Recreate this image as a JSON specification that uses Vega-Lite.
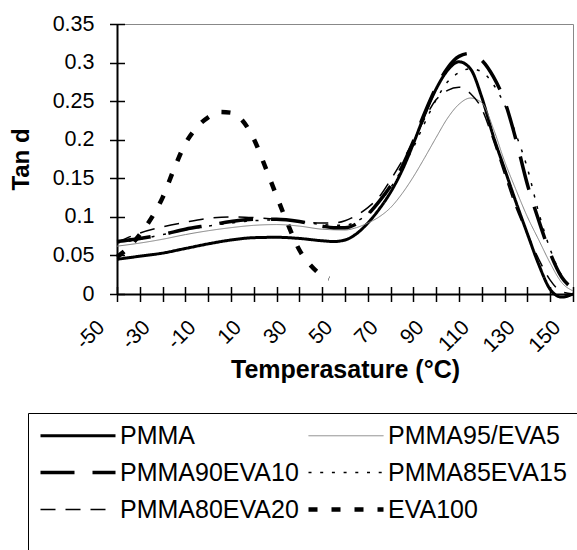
{
  "$schema": "https://vega.github.io/schema/vega-lite/v6.json",
  "width": 456,
  "height": 270,
  "autosize": {"type": "none"},
  "padding": {"left": 117, "top": 24, "right": 4, "bottom": 256},
  "config": {
    "font": "Liberation Sans",
    "view": {"stroke": "#888", "strokeWidth": 1},
    "legend": {
      "orient": "none",
      "legendX": -89,
      "legendY": 389,
      "columns": 2,
      "columnPadding": 0,
      "rowPadding": 11,
      "padding": 10,
      "strokeColor": "black",
      "labelFont": "Liberation Sans",
      "labelFontSize": 25,
      "labelColor": "black",
      "labelLimit": 400,
      "labelOffset": 57,
      "symbolType": "M-1,0H6.5",
      "symbolSize": 400,
      "titleOrient": "bottom",
      "titleFontSize": 20,
      "titlePadding": 10
    }
  },
  "datasets": {
    "d": [
      {"s": "PMMA", "t": -50, "v": 0.045}, {"s": "PMMA", "t": -40, "v": 0.049}, {"s": "PMMA", "t": -30, "v": 0.053}, {"s": "PMMA", "t": -20, "v": 0.059}, {"s": "PMMA", "t": -10, "v": 0.065}, {"s": "PMMA", "t": 0, "v": 0.070}, {"s": "PMMA", "t": 10, "v": 0.073}, {"s": "PMMA", "t": 20, "v": 0.0735}, {"s": "PMMA", "t": 30, "v": 0.072}, {"s": "PMMA", "t": 40, "v": 0.069}, {"s": "PMMA", "t": 45, "v": 0.068}, {"s": "PMMA", "t": 50, "v": 0.070}, {"s": "PMMA", "t": 55, "v": 0.078}, {"s": "PMMA", "t": 60, "v": 0.092}, {"s": "PMMA", "t": 65, "v": 0.11}, {"s": "PMMA", "t": 70, "v": 0.132}, {"s": "PMMA", "t": 75, "v": 0.16}, {"s": "PMMA", "t": 80, "v": 0.195}, {"s": "PMMA", "t": 85, "v": 0.233}, {"s": "PMMA", "t": 90, "v": 0.266}, {"s": "PMMA", "t": 95, "v": 0.29}, {"s": "PMMA", "t": 100, "v": 0.301}, {"s": "PMMA", "t": 105, "v": 0.292}, {"s": "PMMA", "t": 110, "v": 0.255}, {"s": "PMMA", "t": 115, "v": 0.205}, {"s": "PMMA", "t": 120, "v": 0.162}, {"s": "PMMA", "t": 125, "v": 0.119}, {"s": "PMMA", "t": 130, "v": 0.078}, {"s": "PMMA", "t": 135, "v": 0.038}, {"s": "PMMA", "t": 140, "v": 0.006}, {"s": "PMMA", "t": 145, "v": -0.004}, {"s": "PMMA", "t": 150, "v": 0.0},
      {"s": "PMMA95/EVA5", "t": -50, "v": 0.062}, {"s": "PMMA95/EVA5", "t": -40, "v": 0.066}, {"s": "PMMA95/EVA5", "t": -30, "v": 0.071}, {"s": "PMMA95/EVA5", "t": -20, "v": 0.077}, {"s": "PMMA95/EVA5", "t": -10, "v": 0.082}, {"s": "PMMA95/EVA5", "t": 0, "v": 0.086}, {"s": "PMMA95/EVA5", "t": 10, "v": 0.089}, {"s": "PMMA95/EVA5", "t": 20, "v": 0.09}, {"s": "PMMA95/EVA5", "t": 30, "v": 0.088}, {"s": "PMMA95/EVA5", "t": 40, "v": 0.084}, {"s": "PMMA95/EVA5", "t": 50, "v": 0.083}, {"s": "PMMA95/EVA5", "t": 55, "v": 0.086}, {"s": "PMMA95/EVA5", "t": 60, "v": 0.092}, {"s": "PMMA95/EVA5", "t": 65, "v": 0.1}, {"s": "PMMA95/EVA5", "t": 70, "v": 0.112}, {"s": "PMMA95/EVA5", "t": 75, "v": 0.13}, {"s": "PMMA95/EVA5", "t": 80, "v": 0.152}, {"s": "PMMA95/EVA5", "t": 85, "v": 0.177}, {"s": "PMMA95/EVA5", "t": 90, "v": 0.203}, {"s": "PMMA95/EVA5", "t": 95, "v": 0.228}, {"s": "PMMA95/EVA5", "t": 100, "v": 0.246}, {"s": "PMMA95/EVA5", "t": 105, "v": 0.254}, {"s": "PMMA95/EVA5", "t": 110, "v": 0.248}, {"s": "PMMA95/EVA5", "t": 115, "v": 0.215}, {"s": "PMMA95/EVA5", "t": 120, "v": 0.172}, {"s": "PMMA95/EVA5", "t": 125, "v": 0.135}, {"s": "PMMA95/EVA5", "t": 130, "v": 0.1}, {"s": "PMMA95/EVA5", "t": 135, "v": 0.07}, {"s": "PMMA95/EVA5", "t": 140, "v": 0.04}, {"s": "PMMA95/EVA5", "t": 145, "v": 0.015}, {"s": "PMMA95/EVA5", "t": 150, "v": 0.004},
      {"s": "PMMA90EVA10", "t": -50, "v": 0.068}, {"s": "PMMA90EVA10", "t": -40, "v": 0.072}, {"s": "PMMA90EVA10", "t": -30, "v": 0.077}, {"s": "PMMA90EVA10", "t": -20, "v": 0.084}, {"s": "PMMA90EVA10", "t": -10, "v": 0.089}, {"s": "PMMA90EVA10", "t": 0, "v": 0.094}, {"s": "PMMA90EVA10", "t": 10, "v": 0.097}, {"s": "PMMA90EVA10", "t": 20, "v": 0.097}, {"s": "PMMA90EVA10", "t": 30, "v": 0.094}, {"s": "PMMA90EVA10", "t": 40, "v": 0.088}, {"s": "PMMA90EVA10", "t": 45, "v": 0.086}, {"s": "PMMA90EVA10", "t": 50, "v": 0.086}, {"s": "PMMA90EVA10", "t": 55, "v": 0.091}, {"s": "PMMA90EVA10", "t": 60, "v": 0.103}, {"s": "PMMA90EVA10", "t": 65, "v": 0.12}, {"s": "PMMA90EVA10", "t": 70, "v": 0.14}, {"s": "PMMA90EVA10", "t": 75, "v": 0.165}, {"s": "PMMA90EVA10", "t": 80, "v": 0.198}, {"s": "PMMA90EVA10", "t": 85, "v": 0.235}, {"s": "PMMA90EVA10", "t": 90, "v": 0.268}, {"s": "PMMA90EVA10", "t": 95, "v": 0.293}, {"s": "PMMA90EVA10", "t": 100, "v": 0.308}, {"s": "PMMA90EVA10", "t": 105, "v": 0.312}, {"s": "PMMA90EVA10", "t": 110, "v": 0.303}, {"s": "PMMA90EVA10", "t": 115, "v": 0.282}, {"s": "PMMA90EVA10", "t": 120, "v": 0.25}, {"s": "PMMA90EVA10", "t": 125, "v": 0.2}, {"s": "PMMA90EVA10", "t": 130, "v": 0.142}, {"s": "PMMA90EVA10", "t": 135, "v": 0.095}, {"s": "PMMA90EVA10", "t": 140, "v": 0.053}, {"s": "PMMA90EVA10", "t": 145, "v": 0.022}, {"s": "PMMA90EVA10", "t": 150, "v": 0.007},
      {"s": "PMMA85EVA15", "t": -50, "v": 0.066}, {"s": "PMMA85EVA15", "t": -40, "v": 0.071}, {"s": "PMMA85EVA15", "t": -30, "v": 0.077}, {"s": "PMMA85EVA15", "t": -20, "v": 0.083}, {"s": "PMMA85EVA15", "t": -10, "v": 0.088}, {"s": "PMMA85EVA15", "t": 0, "v": 0.092}, {"s": "PMMA85EVA15", "t": 10, "v": 0.095}, {"s": "PMMA85EVA15", "t": 20, "v": 0.096}, {"s": "PMMA85EVA15", "t": 30, "v": 0.094}, {"s": "PMMA85EVA15", "t": 40, "v": 0.09}, {"s": "PMMA85EVA15", "t": 50, "v": 0.089}, {"s": "PMMA85EVA15", "t": 55, "v": 0.094}, {"s": "PMMA85EVA15", "t": 60, "v": 0.104}, {"s": "PMMA85EVA15", "t": 65, "v": 0.12}, {"s": "PMMA85EVA15", "t": 70, "v": 0.138}, {"s": "PMMA85EVA15", "t": 75, "v": 0.162}, {"s": "PMMA85EVA15", "t": 80, "v": 0.19}, {"s": "PMMA85EVA15", "t": 85, "v": 0.222}, {"s": "PMMA85EVA15", "t": 90, "v": 0.252}, {"s": "PMMA85EVA15", "t": 95, "v": 0.275}, {"s": "PMMA85EVA15", "t": 100, "v": 0.287}, {"s": "PMMA85EVA15", "t": 105, "v": 0.292}, {"s": "PMMA85EVA15", "t": 110, "v": 0.288}, {"s": "PMMA85EVA15", "t": 115, "v": 0.272}, {"s": "PMMA85EVA15", "t": 120, "v": 0.245}, {"s": "PMMA85EVA15", "t": 125, "v": 0.207}, {"s": "PMMA85EVA15", "t": 130, "v": 0.163}, {"s": "PMMA85EVA15", "t": 135, "v": 0.105}, {"s": "PMMA85EVA15", "t": 140, "v": 0.058}, {"s": "PMMA85EVA15", "t": 145, "v": 0.024}, {"s": "PMMA85EVA15", "t": 150, "v": 0.006},
      {"s": "PMMA80EVA20", "t": -50, "v": 0.067}, {"s": "PMMA80EVA20", "t": -40, "v": 0.079}, {"s": "PMMA80EVA20", "t": -30, "v": 0.087}, {"s": "PMMA80EVA20", "t": -20, "v": 0.093}, {"s": "PMMA80EVA20", "t": -10, "v": 0.098}, {"s": "PMMA80EVA20", "t": 0, "v": 0.1}, {"s": "PMMA80EVA20", "t": 10, "v": 0.099}, {"s": "PMMA80EVA20", "t": 20, "v": 0.097}, {"s": "PMMA80EVA20", "t": 30, "v": 0.094}, {"s": "PMMA80EVA20", "t": 40, "v": 0.092}, {"s": "PMMA80EVA20", "t": 45, "v": 0.092}, {"s": "PMMA80EVA20", "t": 50, "v": 0.095}, {"s": "PMMA80EVA20", "t": 55, "v": 0.102}, {"s": "PMMA80EVA20", "t": 60, "v": 0.112}, {"s": "PMMA80EVA20", "t": 65, "v": 0.126}, {"s": "PMMA80EVA20", "t": 70, "v": 0.148}, {"s": "PMMA80EVA20", "t": 75, "v": 0.172}, {"s": "PMMA80EVA20", "t": 80, "v": 0.198}, {"s": "PMMA80EVA20", "t": 85, "v": 0.228}, {"s": "PMMA80EVA20", "t": 90, "v": 0.252}, {"s": "PMMA80EVA20", "t": 95, "v": 0.264}, {"s": "PMMA80EVA20", "t": 100, "v": 0.268}, {"s": "PMMA80EVA20", "t": 105, "v": 0.26}, {"s": "PMMA80EVA20", "t": 110, "v": 0.24}, {"s": "PMMA80EVA20", "t": 115, "v": 0.2}, {"s": "PMMA80EVA20", "t": 120, "v": 0.155}, {"s": "PMMA80EVA20", "t": 125, "v": 0.112}, {"s": "PMMA80EVA20", "t": 130, "v": 0.078}, {"s": "PMMA80EVA20", "t": 135, "v": 0.045}, {"s": "PMMA80EVA20", "t": 140, "v": 0.018}, {"s": "PMMA80EVA20", "t": 145, "v": 0.003}, {"s": "PMMA80EVA20", "t": 150, "v": 0.0},
      {"s": "EVA100", "t": -50, "v": 0.048}, {"s": "EVA100", "t": -45, "v": 0.06}, {"s": "EVA100", "t": -40, "v": 0.077}, {"s": "EVA100", "t": -35, "v": 0.098}, {"s": "EVA100", "t": -30, "v": 0.125}, {"s": "EVA100", "t": -25, "v": 0.162}, {"s": "EVA100", "t": -20, "v": 0.195}, {"s": "EVA100", "t": -15, "v": 0.216}, {"s": "EVA100", "t": -10, "v": 0.229}, {"s": "EVA100", "t": -5, "v": 0.236}, {"s": "EVA100", "t": 0, "v": 0.235}, {"s": "EVA100", "t": 5, "v": 0.225}, {"s": "EVA100", "t": 10, "v": 0.201}, {"s": "EVA100", "t": 15, "v": 0.165}, {"s": "EVA100", "t": 20, "v": 0.127}, {"s": "EVA100", "t": 25, "v": 0.09}, {"s": "EVA100", "t": 30, "v": 0.057}, {"s": "EVA100", "t": 35, "v": 0.037}, {"s": "EVA100", "t": 40, "v": 0.024}, {"s": "EVA100", "t": 43, "v": 0.02}
    ]
  },
  "data": {"name": "d"},
  "resolve": {"axis": {"x": "independent", "y": "independent"}},
  "layer": [
    {
      "transform": [{"filter": "datum.s == 'EVA100'"}],
      "mark": {"type": "line", "interpolate": "monotone"},
      "encoding": {
        "x": {
          "field": "t", "type": "quantitative",
          "scale": {"domain": [-50, 150], "nice": false, "zero": false},
          "axis": {
            "orient": "bottom", "grid": false, "ticks": false,
            "values": [-50, -30, -10, 10, 30, 50, 70, 90, 110, 130, 150],
            "labelExpr": "'' + datum.value",
            "domainColor": "black", "domainWidth": 2,
            "labelAngle": -45, "labelAlign": "right", "labelBaseline": "middle",
            "labelFontSize": 21, "labelColor": "black", "labelPadding": 30, "labelOffset": -16,
            "labelFlush": false, "labelOverlap": false,
            "title": "Temperasature (°C)", "titleFontSize": 25, "titleFontWeight": "bold",
            "titleColor": "black", "titlePadding": 2
          }
        },
        "y": {
          "field": "v", "type": "quantitative",
          "scale": {"domain": [0, 0.35], "nice": false},
          "axis": {
            "orient": "left", "grid": false, "ticks": false,
            "values": [0, 0.05, 0.1, 0.15, 0.2, 0.25, 0.3, 0.35], "format": "~g",
            "domainColor": "black", "domainWidth": 2,
            "labelFontSize": 21.5, "labelColor": "black", "labelPadding": 23, "labelFlush": false, "labelOverlap": false,
            "title": "Tan d", "titleFontSize": 24, "titleFontWeight": "bold",
            "titleColor": "black", "titlePadding": 19
          }
        },
        "color": {
          "field": "s", "type": "nominal", "title": " ",
          "scale": {"domain": ["PMMA", "PMMA90EVA10", "PMMA80EVA20", "PMMA95/EVA5", "PMMA85EVA15", "EVA100"], "range": ["black", "black", "black", "#808080", "black", "black"]}
        },
        "strokeWidth": {
          "field": "s", "type": "nominal", "title": " ",
          "scale": {"type": "ordinal", "domain": ["PMMA", "PMMA90EVA10", "PMMA80EVA20", "PMMA95/EVA5", "PMMA85EVA15", "EVA100"], "range": [3, 3.5, 1.5, 1, 1.5, 4.5]}
        },
        "strokeDash": {
          "field": "s", "type": "nominal", "title": " ",
          "scale": {"domain": ["PMMA", "PMMA90EVA10", "PMMA80EVA20", "PMMA95/EVA5", "PMMA85EVA15", "EVA100"], "range": [[1, 0], [34, 18], [15, 10], [1, 0], [3, 8.7], [9, 14]]}
        }
      }
    },
    {
      "transform": [{"filter": "datum.s != 'EVA100'"}],
      "mark": {"type": "line", "interpolate": "monotone"},
      "encoding": {
        "x": {
          "field": "t", "type": "quantitative",
          "axis": {
            "orient": "bottom", "grid": false, "domain": false, "labels": false, "title": null,
            "offset": -7.5, "ticks": true, "tickSize": 15, "tickWidth": 1.5, "tickColor": "black",
            "values": [-50, -40, -30, -20, -10, 0, 10, 20, 30, 40, 50, 60, 70, 80, 90, 100, 110, 120, 130, 140, 150]
          }
        },
        "y": {
          "field": "v", "type": "quantitative",
          "axis": {
            "orient": "left", "grid": false, "domain": false, "labels": false, "title": null,
            "offset": -7.5, "ticks": true, "tickSize": 15, "tickWidth": 1.5, "tickColor": "black",
            "values": [0, 0.05, 0.1, 0.15, 0.2, 0.25, 0.3, 0.35]
          }
        },
        "color": {
          "field": "s", "type": "nominal", "title": " ",
          "scale": {"domain": ["PMMA", "PMMA90EVA10", "PMMA80EVA20", "PMMA95/EVA5", "PMMA85EVA15", "EVA100"], "range": ["black", "black", "black", "#808080", "black", "black"]}
        },
        "strokeWidth": {
          "field": "s", "type": "nominal", "title": " ",
          "scale": {"type": "ordinal", "domain": ["PMMA", "PMMA90EVA10", "PMMA80EVA20", "PMMA95/EVA5", "PMMA85EVA15", "EVA100"], "range": [3, 3.5, 1.5, 1, 1.5, 4.5]}
        },
        "strokeDash": {
          "field": "s", "type": "nominal", "title": " ",
          "scale": {"domain": ["PMMA", "PMMA90EVA10", "PMMA80EVA20", "PMMA95/EVA5", "PMMA85EVA15", "EVA100"], "range": [[1, 0], [34, 18], [15, 10], [1, 0], [3, 8.7], [9, 14]]}
        }
      }
    }
  ]
}
